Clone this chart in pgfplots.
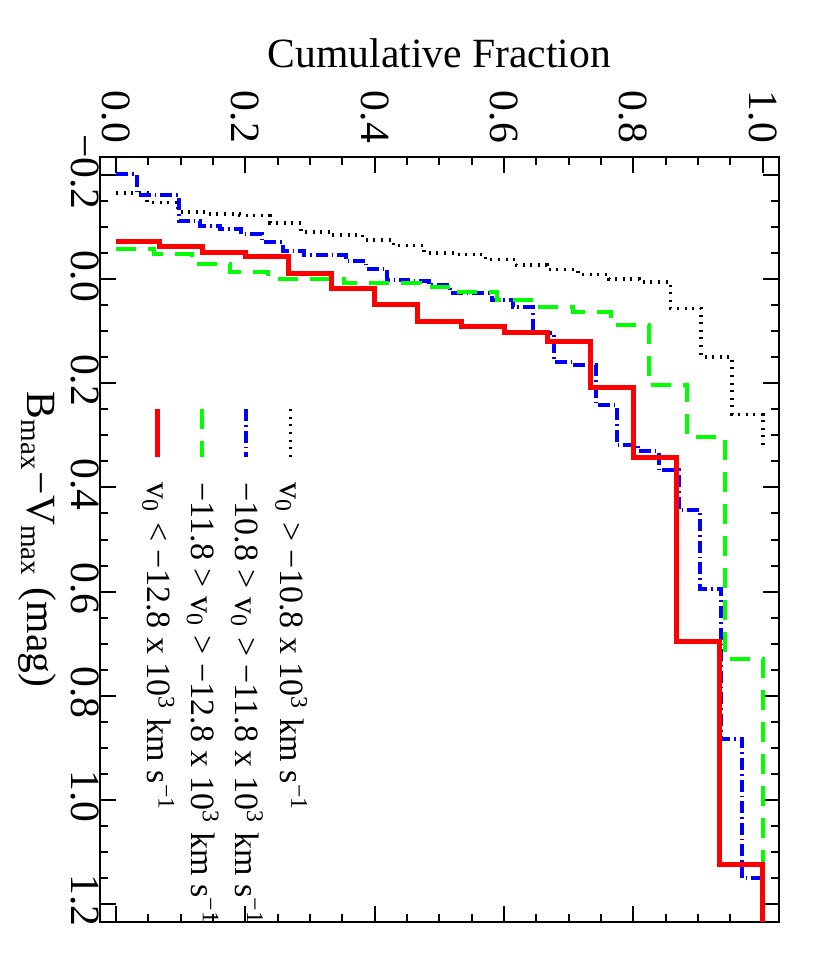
\documentclass[border=0pt]{standalone}
\usepackage{fontspec}
\setmainfont{Liberation Serif}
\usepackage{pgfplots}
\pgfplotsset{compat=1.18}
\definecolor{pblue}{RGB}{0,0,255}
\definecolor{pgreen}{RGB}{0,255,0}
\definecolor{pred}{RGB}{255,0,0}
\begin{document}
\begin{tikzpicture}[font=\fontsize{10.4}{12.5}\selectfont]
\begin{axis}[name=ax, scale only axis, width=169.75pt, height=191.25pt,
  xmin=-0.025, xmax=1.025, ymin=-0.235, ymax=1.235, y dir=reverse,
  xtick={0,0.2,0.4,0.6,0.8,1.0}, xticklabels={0.0,0.2,0.4,0.6,0.8,1.0},
  ytick={-0.2,0,0.2,0.4,0.6,0.8,1.0,1.2},
  yticklabels={−0.2,0.0,0.2,0.4,0.6,0.8,1.0,1.2},
  minor x tick num=3, minor y tick num=3,
  xtick pos=both, ytick pos=both, xticklabel pos=upper,
  tick align=inside, major tick length=4pt, minor tick length=2pt,
  axis line style={line width=0.5pt},
  every tick/.style={black, line width=0.5pt},
  xticklabel style={rotate=-90, anchor=east},
  yticklabel style={rotate=-90, anchor=north, inner sep=0pt, xshift=-0.8pt},
  xlabel={Cumulative Fraction},
  xlabel style={yshift=-1pt},
  ylabel={B\textsubscript{max}−V\textsubscript{max} (mag)},
  every axis y label/.style={at={(ticklabel cs:0.5)}, rotate=-90, anchor=north},
  legend image code/.code={\draw[#1] (0pt,0pt) -- (12pt,0pt);},
  legend cell align=left,
  legend to name=leg,
  legend style={draw=none, fill=none, row sep=0.75pt,
    font=\fontsize{8.5}{10}\selectfont,
    nodes={inner sep=1pt},
    /tikz/every odd column/.append style={column sep=4.75pt}},
]
\addplot[black, line width=0.9pt, dash pattern=on 0.5pt off 1.4pt, const plot] coordinates {
(0,-0.166) (0.0476,-0.1475) (0.0952,-0.129) (0.1429,-0.125) (0.1905,-0.1225)
(0.2381,-0.108) (0.2857,-0.091) (0.3333,-0.085) (0.381,-0.076) (0.4286,-0.065)
(0.4762,-0.051) (0.5238,-0.048) (0.5714,-0.038) (0.619,-0.027) (0.6667,-0.019)
(0.7143,-0.0096) (0.7619,-0.0004) (0.8095,0.005) (0.8571,0.056) (0.9048,0.149)
(0.9524,0.260) (1,0.319)};
\addlegendentry{v\textsubscript{0} > −10.8 x 10\textsuperscript{3} km s\textsuperscript{−1}}
\addplot[pblue, line width=1pt, dash pattern=on 3pt off 1pt on 0.4pt off 1pt, const plot] coordinates {
(0,-0.202) (0.0323,-0.162) (0.0968,-0.1125) (0.129,-0.1025) (0.1613,-0.096)
(0.1935,-0.0865) (0.2258,-0.071) (0.2581,-0.054) (0.2903,-0.046) (0.3548,-0.035)
(0.3871,-0.019) (0.4194,0.001) (0.4516,0.004) (0.4839,0.0115) (0.5161,0.027)
(0.5806,0.040) (0.6129,0.054) (0.6452,0.104) (0.6774,0.159) (0.7097,0.165)
(0.7419,0.242) (0.7742,0.318) (0.8065,0.330) (0.8387,0.367) (0.871,0.444)
(0.9032,0.595) (0.9355,0.883) (0.9677,1.151) (1,1.235)};
\addlegendentry{−10.8 > v\textsubscript{0} > −11.8 x 10\textsuperscript{3} km s\textsuperscript{−1}}
\addplot[pgreen, line width=1pt, dash pattern=on 5pt off 3pt, const plot] coordinates {
(0,-0.059) (0.0588,-0.049) (0.1176,-0.030) (0.1765,-0.014) (0.2353,-0.001)
(0.3529,0.008) (0.4706,0.015) (0.5294,0.024) (0.5882,0.039) (0.6471,0.053)
(0.7059,0.063) (0.7647,0.087) (0.8235,0.204) (0.8824,0.303) (0.9412,0.729)
(1,1.235)};
\addlegendentry{−11.8 > v\textsubscript{0} > −12.8 x 10\textsuperscript{3} km s\textsuperscript{−1}}
\addplot[pred, line width=1.25pt, const plot] coordinates {
(0,-0.073) (0.0667,-0.063) (0.1333,-0.051) (0.2,-0.043) (0.2667,-0.011)
(0.3333,0.017) (0.4,0.048) (0.4667,0.082) (0.5333,0.090) (0.6,0.103)
(0.6667,0.119) (0.7333,0.208) (0.8,0.342) (0.8667,0.696) (0.9333,1.125)
(1,1.235)};
\addlegendentry{v\textsubscript{0} < −12.8 x 10\textsuperscript{3} km s\textsuperscript{−1}}
\end{axis}
\node[rotate=-90, anchor=north west, inner sep=0pt]
  at ([shift={(55pt,-59.25pt)}]ax.north west) {\pgfplotslegendfromname{leg}};
\pgfresetboundingbox
\path ([shift={(-25pt,-11.75pt)}]ax.south west) rectangle ([shift={(12.75pt,39.25pt)}]ax.north east);
\end{tikzpicture}
\end{document}
